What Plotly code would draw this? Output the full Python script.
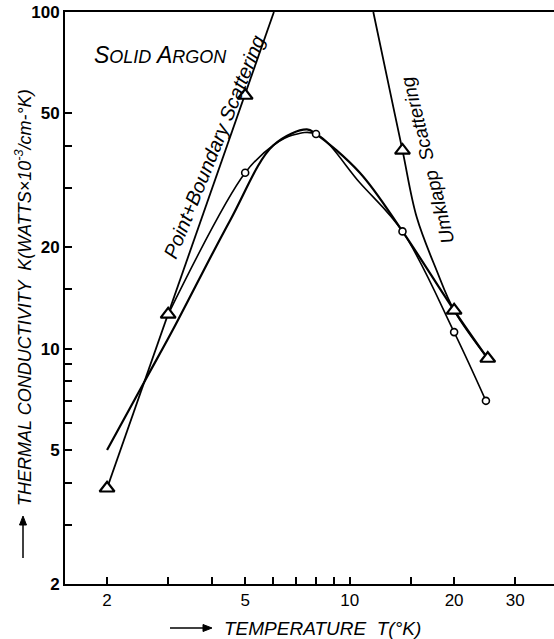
import math
import plotly.graph_objects as go

# Calculated conductivity (triangles), T in K, K in W x 10^-3 / cm-K
calc_T = [2.0, 3.0, 5.0, 14.2, 20.0, 25.0]
calc_K = [3.85, 12.65, 56.5, 38.8, 13.0, 9.35]

# Measured conductivity (circles)
meas_T = [5.0, 8.0, 14.2, 20.0, 24.7]
meas_K = [33.3, 43.4, 22.3, 11.2, 7.0]

# Curve drawn through the measured points (starts at the 3 K triangle)
meas_curve_T = [3.0, 5.0, 6.03, 6.86, 8.0, 10.7, 14.2, 20.0, 24.7]
meas_curve_K = [12.65, 33.3, 40.2, 43.1, 43.4, 31.1, 22.3, 11.2, 7.0]

# Combined theoretical curve
theory_T = [2.0, 2.6, 3.07, 4.52, 6.03, 7.53, 8.0, 10.7, 14.2, 20.0, 25.0]
theory_K = [5.0, 8.2, 11.2, 24.0, 40.2, 44.8, 43.4, 33.3, 22.3, 13.0, 9.35]

# Point + boundary scattering limit (straight on log-log)
boundary_T = [2.0, 6.05]
boundary_K = [3.85, 100.0]

# Umklapp scattering limit
umklapp_T = [11.7, 12.8, 14.2, 15.6, 17.8, 20.0, 25.0]
umklapp_K = [100.0, 64.4, 38.8, 24.6, 17.1, 13.0, 9.35]

# Axis ticks: labelled and unlabelled positions
x_major = [2, 5, 10, 20, 30]
x_labels = ["2", "5", "10", "20", "30"]
x_minor = [3, 4, 6, 7, 8, 9, 15]
y_major = [2, 5, 10, 20, 50, 100]
y_labels = ["2", "5", "10", "20", "50", "100"]
y_minor = [3, 4, 6, 7, 8, 9, 15, 30, 40]

W, H = 554, 639
ML, MR, MT, MB = 65, 0, 12, 55
PW, PH = W - ML - MR, H - MT - MB


def px(x):
    return (x - ML) / PW


def py(y):
    return (H - MB - y) / PH


fig = go.Figure()

fig.add_trace(go.Scatter(x=boundary_T, y=boundary_K, mode="lines",
                         line=dict(color="black", width=1.8)))
fig.add_trace(go.Scatter(x=umklapp_T, y=umklapp_K, mode="lines",
                         line=dict(color="black", width=1.8, shape="spline")))
fig.add_trace(go.Scatter(x=theory_T, y=theory_K, mode="lines",
                         line=dict(color="black", width=2.2, shape="spline")))
fig.add_trace(go.Scatter(x=meas_curve_T, y=meas_curve_K, mode="lines",
                         line=dict(color="black", width=1.6, shape="spline")))
fig.add_trace(go.Scatter(x=meas_T, y=meas_K, mode="markers",
                         marker=dict(symbol="circle", size=7, color="white",
                                     line=dict(color="black", width=1.6))))
fig.add_trace(go.Scatter(x=calc_T, y=calc_K, mode="markers",
                         marker=dict(symbol="triangle-up", size=13, color="white",
                                     line=dict(color="black", width=2.2))))

annotations = [
    dict(text="S<span style='font-size:18px'>OLID</span> A<span style='font-size:18px'>RGON</span>",
         x=px(160), y=py(55), font=dict(family="Liberation Sans", size=23,
                                        color="black", style="italic")),
    dict(text="Point+Boundary Scattering", x=px(214), y=py(147), textangle=-68,
         font=dict(family="Liberation Sans", size=20, color="black", style="italic")),
    dict(text="Umklapp  Scattering", x=px(427), y=py(160), textangle=-104,
         font=dict(family="Liberation Sans", size=19, color="black", style="italic")),
    dict(text="TEMPERATURE  T(°K)", x=px(322), y=py(628),
         font=dict(family="Liberation Sans", size=19, color="black", style="italic")),
    dict(text="THERMAL CONDUCTIVITY  K(WATTS×10<sup>-3</sup>/cm-°K)",
         x=px(23), y=py(298), textangle=-90,
         font=dict(family="Liberation Sans", size=18, color="black", style="italic")),
]
for a in annotations:
    a.update(xref="paper", yref="paper", xanchor="center", yanchor="middle",
             showarrow=False)


def arrow_shapes(x0, y0, x1, y1):
    """Shaft plus a small filled head, pixel coordinates converted to paper."""
    dx, dy = x1 - x0, y1 - y0
    n = math.hypot(dx, dy)
    ux, uy = dx / n, dy / n
    hl, hw = 9, 3.5
    bx, by = x1 - ux * hl, y1 - uy * hl
    p1 = (bx - uy * hw, by + ux * hw)
    p2 = (bx + uy * hw, by - ux * hw)
    shaft = dict(type="line", xref="paper", yref="paper",
                 x0=px(x0), y0=py(y0), x1=px(bx), y1=py(by),
                 line=dict(color="black", width=1.5))
    head = dict(type="path", xref="paper", yref="paper",
                path=f"M {px(x1)},{py(y1)} L {px(p1[0])},{py(p1[1])} "
                     f"L {px(p2[0])},{py(p2[1])} Z",
                fillcolor="black", line=dict(color="black", width=1))
    return [shaft, head]


shapes = arrow_shapes(170, 628, 212, 628) + arrow_shapes(23, 558, 23, 516)

tick_style = dict(ticks="inside", ticklen=7, tickwidth=1.5, tickcolor="black")

fig.update_layout(
    width=W, height=H,
    margin=dict(l=ML, r=MR, t=MT, b=MB),
    paper_bgcolor="white", plot_bgcolor="white",
    showlegend=False,
    annotations=annotations,
    shapes=shapes,
    xaxis=dict(type="log", range=[math.log10(1.513), math.log10(38.8)],
               tickmode="array", tickvals=x_major, ticktext=x_labels,
               tickfont=dict(family="Liberation Sans", size=17, color="black"),
               minor=dict(tickmode="array", tickvals=x_minor, **tick_style),
               showline=True, linecolor="black", linewidth=2, mirror=True,
               showgrid=False, zeroline=False, **tick_style),
    yaxis=dict(type="log", range=[math.log10(2), 2],
               tickmode="array", tickvals=y_major, ticktext=y_labels,
               tickfont=dict(family="Liberation Sans", size=17, color="black", weight="bold"),
               minor=dict(tickmode="array", tickvals=y_minor, **tick_style),
               showline=True, linecolor="black", linewidth=2,
               showgrid=False, zeroline=False, **tick_style),
)

fig.write_html("out.html")
